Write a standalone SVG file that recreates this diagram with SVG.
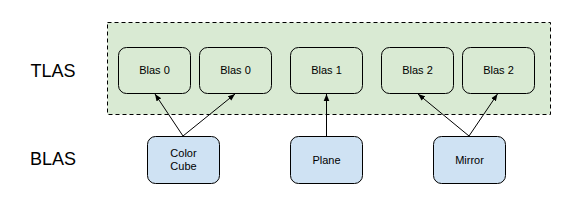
<svg xmlns="http://www.w3.org/2000/svg" width="576" height="215" viewBox="0 0 576 215">
<defs>
<style>
.tl{fill:#d9ead3;stroke:#000;stroke-width:1;}
.bl{fill:#cfe2f3;stroke:#000;stroke-width:1;}
.lb{font-family:"Liberation Sans",Arial,sans-serif;font-size:11px;fill:#000;text-anchor:middle;}
.big{font-family:"Liberation Sans",Arial,sans-serif;font-size:18px;fill:#000;text-anchor:middle;}
.c{stroke:#000;stroke-width:1;fill:none;marker-end:url(#ah);}
</style>
<marker id="ah" viewBox="0 0 10 10" refX="10" refY="5" markerWidth="7" markerHeight="7" markerUnits="userSpaceOnUse" orient="auto">
<path d="M0,1 L10,5 L0,9 z" fill="#000"/>
</marker>
</defs>
<rect width="576" height="215" fill="#fff"/>
<g id="tlas-container">
<rect x="107.5" y="22.5" width="443" height="92" fill="#d9ead3" stroke="#000" stroke-dasharray="4,3"/>
</g>
<g id="label-tlas"><text class="big" x="53" y="77">TLAS</text></g>
<g id="label-blas"><text class="big" x="53" y="165">BLAS</text></g>
<g id="blas0a"><rect class="tl" x="118.5" y="47.5" width="72" height="46" rx="8"/><text class="lb" x="154.5" y="74">Blas 0</text></g>
<g id="blas0b"><rect class="tl" x="199.5" y="47.5" width="72" height="46" rx="8"/><text class="lb" x="235.5" y="74">Blas 0</text></g>
<g id="blas1"><rect class="tl" x="290.5" y="47.5" width="72" height="46" rx="8"/><text class="lb" x="326.5" y="74">Blas 1</text></g>
<g id="blas2a"><rect class="tl" x="381.5" y="47.5" width="72" height="46" rx="8"/><text class="lb" x="417.5" y="74">Blas 2</text></g>
<g id="blas2b"><rect class="tl" x="462.5" y="47.5" width="72" height="46" rx="8"/><text class="lb" x="498.5" y="74">Blas 2</text></g>
<g id="colorcube"><rect class="bl" x="147.5" y="136.5" width="72" height="47" rx="8"/><text class="lb" x="183.5" y="157">Color</text><text class="lb" x="183.5" y="170">Cube</text></g>
<g id="plane"><rect class="bl" x="290.5" y="136.5" width="72" height="47" rx="8"/><text class="lb" x="326.5" y="164">Plane</text></g>
<g id="mirror"><rect class="bl" x="433.5" y="136.5" width="72" height="47" rx="8"/><text class="lb" x="469.5" y="164">Mirror</text></g>
<g id="connectors">
<line class="c" x1="183" y1="136" x2="155" y2="94"/>
<line class="c" x1="183" y1="136" x2="235" y2="94"/>
<line class="c" x1="326.5" y1="136" x2="326.5" y2="94"/>
<line class="c" x1="469" y1="136" x2="418" y2="94"/>
<line class="c" x1="469" y1="136" x2="497.5" y2="94"/>
</g>
</svg>
